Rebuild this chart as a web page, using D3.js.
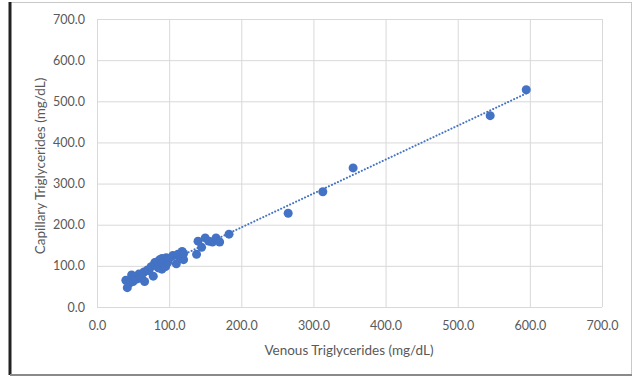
<!DOCTYPE html>
<html>
<head>
<meta charset="utf-8">
<script src="https://cdn.jsdelivr.net/npm/d3@7"></script>
<style>
  body { margin: 0; background: #fff; }
  text { font-family: Lato, "Open Sans", sans-serif; fill: #595959; }
</style>
</head>
<body>
<div id="chart"></div>
<script>
var svgWidth = 634;
var svgHeight = 377;

var margin = { top: 19, right: 32, bottom: 70, left: 97 };
var width = 602 - margin.left;
var height = 307 - margin.top;

// venous vs capillary triglycerides (mg/dL)
var venous = [40, 42, 45, 48, 50, 52, 55, 58, 60, 62, 65, 66, 70, 72, 75, 78, 80, 82,
  84, 85, 87, 88, 90, 90, 92, 93, 95, 96, 98, 100, 105, 110, 112, 115, 118, 120, 120,
  138, 140, 145, 150, 155, 160, 165, 170, 183, 265, 313, 355, 545, 595];
var capillary = [65, 47, 58, 78, 62, 72, 68, 80, 75, 70, 85, 62, 90, 88, 98, 75, 108, 102,
  110, 95, 115, 100, 118, 92, 105, 112, 98, 120, 108, 118, 125, 105, 128, 118, 135, 115, 130,
  128, 160, 145, 168, 160, 158, 168, 158, 177, 228, 280, 338, 465, 528];
var xTicks = [0, 100, 200, 300, 400, 500, 600, 700];
var yTicks = [0, 100, 200, 300, 400, 500, 600, 700];

var points = venous.map(function (v, i) { return { x: v, y: capillary[i] }; });

var svg = d3.select("#chart").append("svg")
  .attr("width", svgWidth)
  .attr("height", svgHeight);

// outer frame
svg.append("rect")
  .attr("x", 10.5).attr("y", 2.5)
  .attr("width", 621).attr("height", 372)
  .attr("fill", "none")
  .attr("stroke", "#c8c8c8");
svg.append("line")
  .attr("x1", 10).attr("x2", 10).attr("y1", 2).attr("y2", 375)
  .attr("stroke", "#222").attr("stroke-width", 3);
svg.append("line")
  .attr("x1", 10).attr("x2", 632).attr("y1", 375).attr("y2", 375)
  .attr("stroke", "#8a8a8a").attr("stroke-width", 2);

var chart = svg.append("g").attr("transform", `translate(${margin.left}, ${margin.top})`);

var xscale = d3.scaleLinear().domain([0, 700]).range([0, width]);
var yscale = d3.scaleLinear().domain([0, 700]).range([height, 0]);

// gridlines
chart.append("g")
  .call(d3.axisBottom(xscale).tickValues(xTicks).tickSize(-height).tickFormat(""))
  .attr("transform", `translate(0, ${height})`)
  .call(function (g) {
    g.select(".domain").remove();
    g.selectAll("line").attr("stroke", "#d9d9d9");
  });
chart.append("g")
  .call(d3.axisLeft(yscale).tickValues(yTicks).tickSize(-width).tickFormat(""))
  .call(function (g) {
    g.select(".domain").remove();
    g.selectAll("line").attr("stroke", "#d9d9d9");
  });

// tick labels
var bottomAxis = chart.append("g")
  .attr("transform", `translate(0, ${height})`)
  .call(d3.axisBottom(xscale).tickValues(xTicks).tickSize(0).tickPadding(14).tickFormat(d3.format(".1f")));
bottomAxis.select(".domain").remove();
bottomAxis.selectAll("text").style("font-size", "12.5px").attr("fill", "#595959");

var leftAxis = chart.append("g")
  .call(d3.axisLeft(yscale).tickValues(yTicks).tickSize(0).tickPadding(12).tickFormat(d3.format(".1f")));
leftAxis.select(".domain").remove();
leftAxis.selectAll("text").style("font-size", "12.5px").attr("fill", "#595959");

// least squares trendline
var mx = d3.mean(points, function (d) { return d.x; });
var my = d3.mean(points, function (d) { return d.y; });
var slope = d3.sum(points, function (d) { return (d.x - mx) * (d.y - my); }) /
  d3.sum(points, function (d) { return (d.x - mx) * (d.x - mx); });
var intercept = my - slope * mx;
var xExt = d3.extent(venous);

chart.selectAll("circle")
  .data(points)
  .enter()
  .append("circle")
  .attr("cx", function (d) { return xscale(d.x); })
  .attr("cy", function (d) { return yscale(d.y); })
  .attr("r", 4.5)
  .attr("fill", "#4472c4");

chart.append("line")
  .attr("x1", xscale(xExt[0]))
  .attr("y1", yscale(slope * xExt[0] + intercept))
  .attr("x2", xscale(xExt[1]))
  .attr("y2", yscale(slope * xExt[1] + intercept))
  .attr("stroke", "#4472c4")
  .attr("stroke-width", 2)
  .attr("stroke-linecap", "round")
  .attr("stroke-dasharray", "0.1,3.2");

// axis titles
svg.append("text")
  .attr("x", 349)
  .attr("y", 355)
  .attr("text-anchor", "middle")
  .style("font-size", "13.5px")
  .text("Venous Triglycerides (mg/dL)");

svg.append("text")
  .attr("transform", "translate(45, 166) rotate(-90)")
  .attr("text-anchor", "middle")
  .style("font-size", "13.5px")
  .text("Capillary Triglycerides (mg/dL)");
</script>
</body>
</html>
